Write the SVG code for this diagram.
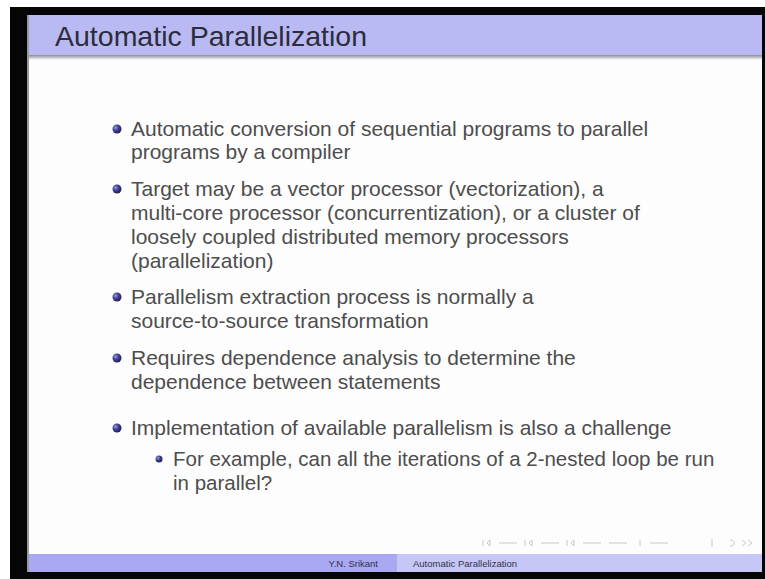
<svg xmlns="http://www.w3.org/2000/svg" width="765" height="579" viewBox="0 0 765 579">
<defs>
<radialGradient id="ball" cx="0.35" cy="0.35" r="0.7">
<stop offset="0" stop-color="#9a9ad8"/>
<stop offset="0.5" stop-color="#3b3b8f"/>
<stop offset="1" stop-color="#1e1e55"/>
</radialGradient>
<linearGradient id="shadow" x1="0" y1="0" x2="0" y2="1">
<stop offset="0" stop-color="#8a8a96"/>
<stop offset="1" stop-color="#ffffff"/>
</linearGradient>
</defs>
<style>
.body{font-family:"Liberation Sans",Arial,sans-serif;font-size:21px;fill:#4d4d4d}
.sub{font-family:"Liberation Sans",Arial,sans-serif;font-size:20.5px;fill:#4d4d4d}
.foot{font-family:"Liberation Sans",Arial,sans-serif;font-size:9.5px;fill:#333344}
.nav{fill:none;stroke:#c8c8d0;stroke-width:1}
</style>
<rect width="765" height="579" fill="#ffffff"/>
<rect x="10" y="7" width="755" height="572" fill="#050505"/>
<rect x="28" y="15" width="734" height="557" fill="#fdfdfd"/>
<rect x="27" y="15" width="2" height="557" fill="#9a9a9a"/>
<g id="title">
<rect x="29" y="15" width="733" height="40" fill="#b9b9f3"/>
<rect x="29" y="55" width="733" height="5" fill="url(#shadow)"/>
<text x="55" y="46" font-family="Liberation Sans, Arial, sans-serif" font-size="28.5" fill="#2c2c3a">Automatic Parallelization</text>
</g>
<g id="bullets">
<circle cx="117" cy="129" r="4.5" fill="url(#ball)"/>
<text class="body" x="131" y="136">Automatic conversion of sequential programs to parallel</text>
<text class="body" x="131" y="159">programs by a compiler</text>
<circle cx="117" cy="189" r="4.5" fill="url(#ball)"/>
<text class="body" x="131" y="196">Target may be a vector processor (vectorization), a</text>
<text class="body" x="131" y="220">multi-core processor (concurrentization), or a cluster of</text>
<text class="body" x="131" y="244">loosely coupled distributed memory processors</text>
<text class="body" x="131" y="268">(parallelization)</text>
<circle cx="117" cy="297" r="4.5" fill="url(#ball)"/>
<text class="body" x="131" y="304">Parallelism extraction process is normally a</text>
<text class="body" x="131" y="328">source-to-source transformation</text>
<circle cx="117" cy="358" r="4.5" fill="url(#ball)"/>
<text class="body" x="131" y="365">Requires dependence analysis to determine the</text>
<text class="body" x="131" y="389">dependence between statements</text>
<circle cx="117" cy="428" r="4.5" fill="url(#ball)"/>
<text class="body" x="131" y="435">Implementation of available parallelism is also a challenge</text>
<circle cx="159" cy="459" r="3.5" fill="url(#ball)"/>
<text class="sub" x="173" y="466">For example, can all the iterations of a 2-nested loop be run</text>
<text class="sub" x="173" y="490">in parallel?</text>
</g>
<g id="nav">
<path class="nav" d="M483 540 v6 M487 543 l3 -3 v6 z M499 543 h18 M525 540 v6 M529 543 l3 -3 v6 z M541 543 h18 M567 540 v6 M571 543 l3 -3 v6 z M583 543 h18 M609 543 h18 M640 540 v6 M650 543 h18 M712 539 v8 M730 540 c6 0 6 6 0 6 M742 540 l4 3 -4 3 M748 540 l4 3 -4 3"/>
</g>
<g id="footer">
<rect x="29" y="554" width="368" height="18" fill="#a9a9f3"/>
<rect x="397" y="554" width="365" height="18" fill="#c6c6f7"/>
<text class="foot" x="378" y="567" text-anchor="end">Y.N. Srikant</text>
<text class="foot" x="413" y="567">Automatic Parallelization</text>
</g>
</svg>
